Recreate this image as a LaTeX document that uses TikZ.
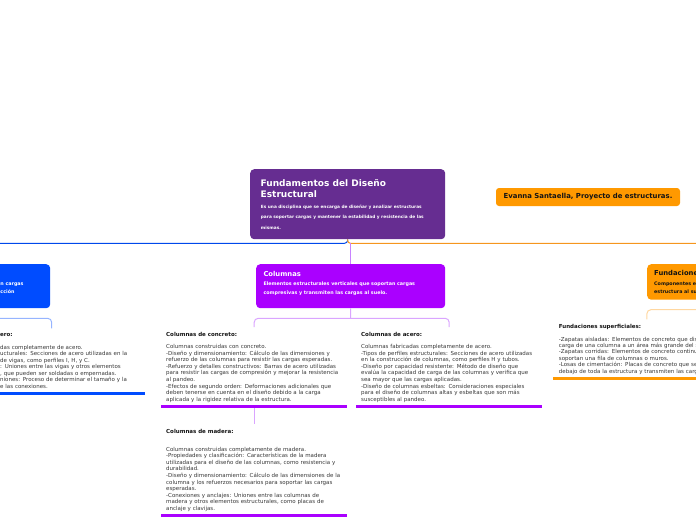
\documentclass[tikz,border=0pt]{standalone}
\usepackage{fontspec}
\setmainfont{DejaVu Sans}
\usepackage{tikz}
\usetikzlibrary{calc}
\definecolor{fundpurple}{RGB}{102,45,145}
\definecolor{colviolet}{RGB}{170,0,255}
\definecolor{vigblue}{RGB}{0,76,255}
\definecolor{cimorange}{RGB}{255,153,0}
\definecolor{ink}{RGB}{20,20,20}
\definecolor{txt}{RGB}{55,55,55}
\definecolor{linkblue}{RGB}{0,72,235}
\definecolor{linkorange}{RGB}{245,150,30}
\definecolor{linkviolet}{RGB}{200,130,255}
\definecolor{forkblue}{RGB}{150,180,255}
\definecolor{forkviolet}{RGB}{218,165,255}
\definecolor{forkorange}{RGB}{255,215,160}
\newcommand{\topichead}[1]{{\color{ink}\bfseries #1}}
\tikzset{
  topic/.style={rounded corners=4pt,inner sep=0pt,anchor=north west},
  boxhead/.style={anchor=north west,inner sep=0pt,align=left,font=\bfseries\fontsize{6.8}{8.4}\selectfont},
  boxtext/.style={anchor=north west,inner sep=0pt,align=left,font=\bfseries\fontsize{4.8}{8.4}\selectfont},
  notes/.style={anchor=north west,inner sep=5pt,text width=176pt,align=left,text=txt,font=\fontsize{5.5}{6.6}\selectfont},
  link/.style={line width=1pt,rounded corners=3pt},
  fork/.style={line width=1pt,rounded corners=4pt},
  underbar/.style={line width=2.6pt},
}

\begin{document}
\begin{tikzpicture}[x=1pt,y=-1pt]
 \useasboundingbox (0,0) rectangle (696,520);
 % central topic
 \node[topic,fill=fundpurple,minimum width=195pt,minimum height=70pt] (fund) at (250,169) {};
 \node[boxhead,text=white,font=\bfseries\fontsize{9}{10.8}\selectfont] (fundhead) at (260.5,179.5) {Fundamentos del Diseño\\Estructural};
 \node[boxtext,text=white,font=\bfseries\fontsize{4.3}{10.5}\selectfont] (funddesc) at (260.7,204.7) {Es una disciplina que se encarga de diseñar y analizar estructuras\\para soportar cargas y mantener la estabilidad y resistencia de las\\mismas.};
 % author note
 \node[topic,anchor=center,fill=cimorange,rounded corners=3pt,minimum width=184pt,minimum height=18pt,text=ink,font=\bfseries\fontsize{6.9}{8}\selectfont] (author) at (588,197) {Evanna Santaella, Proyecto de estructuras.};

 % main topics
 \node[topic,fill=vigblue,minimum width=200pt,minimum height=44pt] (vig) at (-150,264) {};
 \node[boxtext,text=white] (vigdesc) at (0.3,282.4) {n cargas\\cción};
 \node[topic,fill=colviolet,minimum width=189pt,minimum height=44pt] (col) at (256,264) {};
 \node[boxhead,text=white] (colhead) at (263.3,271.2) {Columnas};
 \node[boxtext,text=white] (coldesc) at (263.3,281.9) {Elementos estructurales verticales que soportan cargas\\compresivas y transmiten las cargas al suelo.};
 \node[topic,fill=cimorange,minimum width=200pt,minimum height=35.5pt] (cim) at (647,264) {};
 \node[boxhead,text=ink] (cimhead) at (654,270.4) {Fundacione};
 \node[boxtext,text=ink] (cimdesc) at (654,281.3) {Componentes e\\estructura al su};

 % links from the central topic
 \coordinate (hub) at (347.5,243.3);
 \draw[link,linkblue] (fund.south) -- (hub) -| (vig.north);
 \draw[link,linkorange] (fund.south) -- (hub) -| (cim.north);
 \draw[link,linkviolet,line width=1.5pt] (col.north |- hub) -- (col.north);

 % subtopics
 \node[notes,inner xsep=0pt,font=\fontsize{5.5}{6.5}\selectfont] (vigacero) at (0,328.7) {\topichead{ero:}\\[5.6pt]
  das completamente de acero.\\
  ucturales: Secciones de acero utilizadas en la\\
  de vigas, como perfiles I, H, y C.\\
  : Uniones entre las vigas y otros elementos\\
  , que pueden ser soldadas o empernadas.\\
  niones: Proceso de determinar el tamaño y la\\
  e las conexiones.};
 \node[notes] (conc) at (161,327.2) {\topichead{Columnas de concreto:}\\[5.3pt]
  Columnas construidas con concreto.\\
  -Diseño y dimensionamiento: Cálculo de las dimensiones y\\
  refuerzo de las columnas para resistir las cargas esperadas.\\
  -Refuerzo y detalles constructivos: Barras de acero utilizadas\\
  para resistir las cargas de compresión y mejorar la resistencia\\
  al pandeo.\\
  -Efectos de segundo orden: Deformaciones adicionales que\\
  deben tenerse en cuenta en el diseño debido a la carga\\
  aplicada y la rigidez relativa de la estructura.};
 \node[notes] (acero) at (356,327.2) {\topichead{Columnas de acero:}\\[5.3pt]
  Columnas fabricadas completamente de acero.\\
  -Tipos de perfiles estructurales: Secciones de acero utilizadas\\
  en la construcción de columnas, como perfiles H y tubos.\\
  -Diseño por capacidad resistente: Método de diseño que\\
  evalúa la capacidad de carga de las columnas y verifica que\\
  sea mayor que las cargas aplicadas.\\
  -Diseño de columnas esbeltas: Consideraciones especiales\\
  para el diseño de columnas altas y esbeltas que son más\\
  susceptibles al pandeo.};
 \node[notes] (madera) at (161,424.4) {\topichead{Columnas de madera:}\\[10.7pt]
  Columnas construidas completamente de madera.\\
  -Propiedades y clasificación: Características de la madera\\
  utilizadas para el diseño de las columnas, como resistencia y\\
  durabilidad.\\
  -Diseño y dimensionamiento: Cálculo de las dimensiones de la\\
  columna y los refuerzos necesarios para soportar las cargas\\
  esperadas.\\
  -Conexiones y anclajes: Uniones entre las columnas de\\
  madera y otros elementos estructurales, como placas de\\
  anclaje y clavijas.};
 \node[notes,font=\fontsize{5.5}{6.4}\selectfont] (cimsup) at (553.7,319.3) {\topichead{Fundaciones superficiales:}\\[6pt]
  -Zapatas aisladas: Elementos de concreto que dis\\
  carga de una columna a un área más grande del s\\
  -Zapatas corridas: Elementos de concreto continu\\
  soportan una fila de columnas o muros.\\
  -Losas de cimentación: Placas de concreto que se\\
  debajo de toda la estructura y transmiten las carg};

 % forks to the subtopics
 \coordinate (vigfork) at (-50,318.3);
 \coordinate (vigtip) at (51.7,328.3);
 \draw[fork,forkblue] (vig.south) -- (vigfork) -| (vigtip);
 \coordinate (colfork) at (350.5,318.3);
 \draw[fork,forkviolet] (col.south) -- (colfork);
 \draw[fork,forkviolet] (conc.north) |- (colfork) -| (acero.north);
 \draw[fork,forkviolet] (conc.south) -- (madera.north);
 \coordinate (cimfork) at (747,309.7);
 \draw[fork,forkorange] (cim.south) -- (cimfork);
 \draw[fork,forkorange] (cimsup.north) |- (cimfork);

 % underlines
 \draw[underbar,vigblue] (-40,393.3) -- (145,393.3);
 \draw[underbar,colviolet] (161,406.3) -- (347,406.3);
 \draw[underbar,colviolet] (356,406.3) -- (542,406.3);
 \draw[underbar,colviolet] (161,515.3) -- (347,515.3);
 \draw[underbar,cimorange] (553,378.3) -- (740,378.3);
\end{tikzpicture}
\end{document}
